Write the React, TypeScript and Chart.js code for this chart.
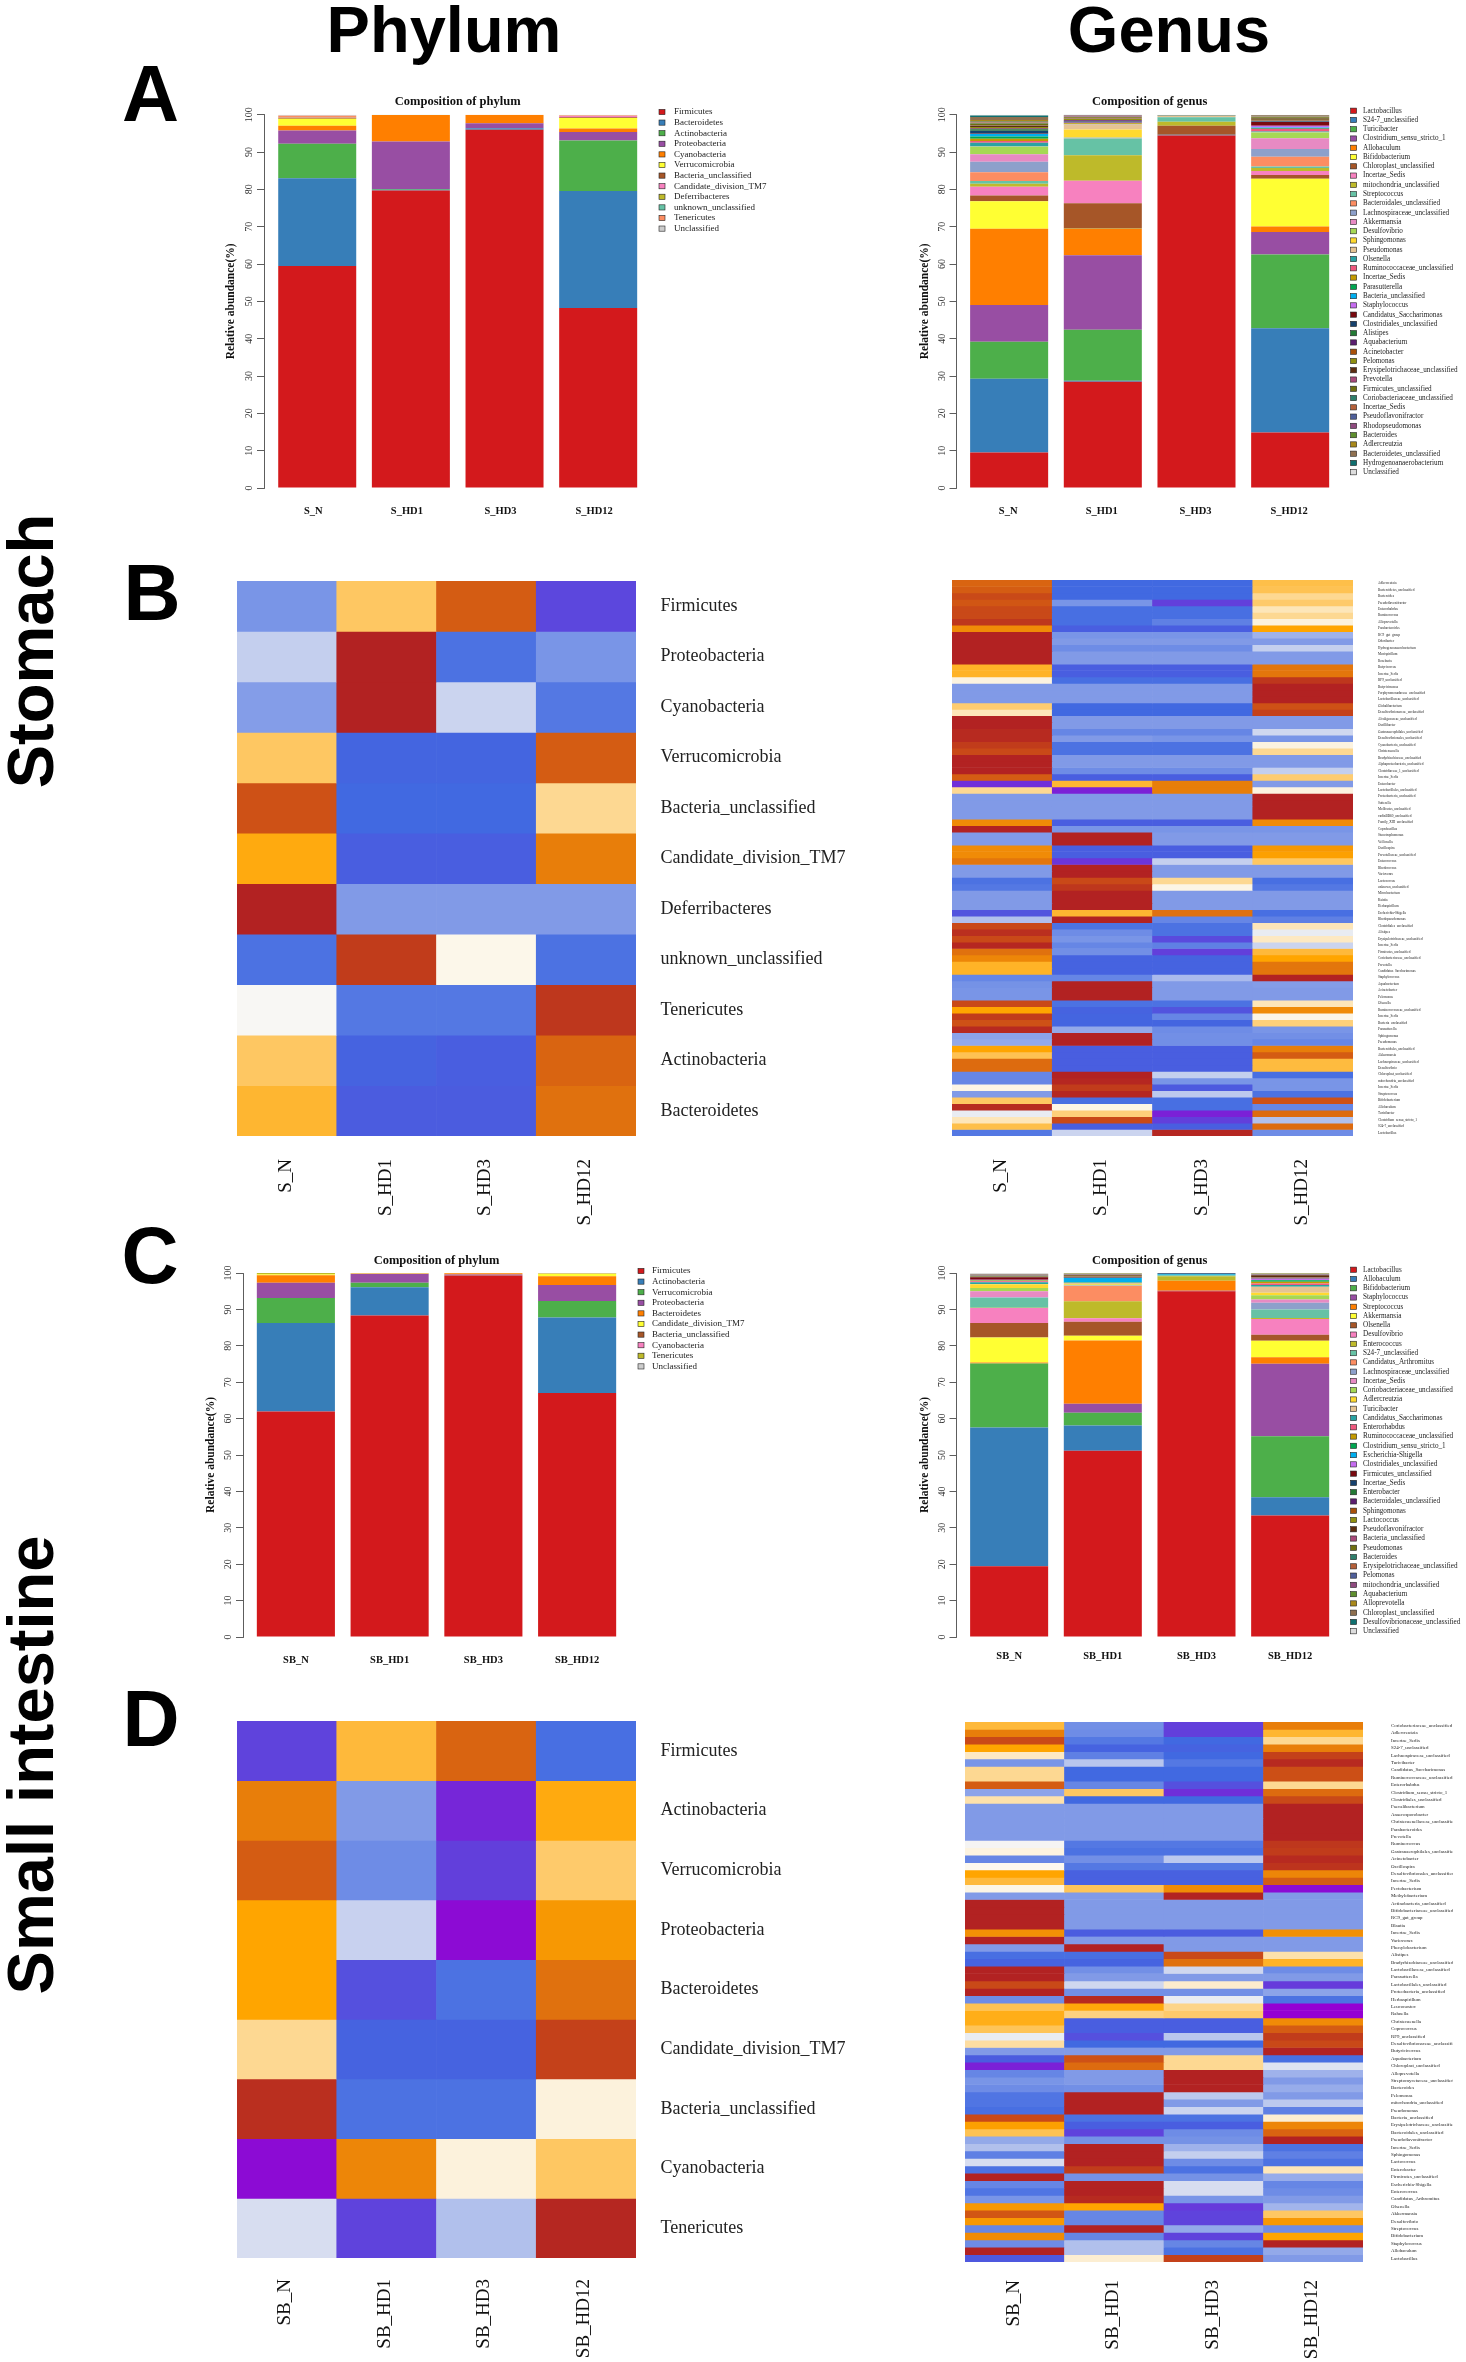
import React, { useEffect, useRef } from "react";
import { Chart, registerables } from "chart.js";

Chart.register(...registerables);

const SERIF = "'Liberation Serif'";
const SANS = "'Liberation Sans'";

// ---------- samples ----------
const sSamples = ["S_N", "S_HD1", "S_HD3", "S_HD12"];
const sbSamples = ["SB_N", "SB_HD1", "SB_HD3", "SB_HD12"];

// ---------- stomach phylum composition ----------
const sPhylumNames = ["Firmicutes", "Bacteroidetes", "Actinobacteria", "Proteobacteria", "Cyanobacteria", "Verrucomicrobia", "Bacteria_unclassified", "Candidate_division_TM7", "Deferribacteres", "unknown_unclassified", "Tenericutes", "Unclassified"];
const sPhylumColors = ["#D3191C", "#377EB8", "#4DAF4A", "#984EA3", "#FF7F00", "#FFFF33", "#A65628", "#F781BF", "#BEBA2A", "#66C2A5", "#FC8D62", "#CCCCCC"];
const sPhylumN = [59.5, 23.5, 9.2, 3.6, 1.25, 1.85, 0.3, 0.05, 0.05, 0.05, 0.4, 0.25];
const sPhylumHD1 = [79.7, 0.2, 0.2, 12.7, 7.1, 0, 0, 0, 0, 0.1, 0, 0];
const sPhylumHD3 = [96, 0.4, 0, 1.3, 2.3, 0, 0, 0, 0, 0, 0, 0];
const sPhylumHD12 = [48.2, 31.3, 13.5, 2.3, 0.9, 2.8, 0.2, 0.4, 0.1, 0, 0.1, 0.1];

// ---------- stomach genus composition ----------
const sGenusNames = ["Lactobacillus", "S24-7_unclassified", "Turicibacter", "Clostridium_sensu_stricto_1", "Allobaculum", "Bifidobacterium", "Chloroplast_unclassified", "Incertae_Sedis", "mitochondria_unclassified", "Streptococcus", "Bacteroidales_unclassified", "Lachnospiraceae_unclassified", "Akkermansia", "Desulfovibrio", "Sphingomonas", "Pseudomonas", "Olsenella", "Ruminococcaceae_unclassified", "Incertae_Sedis", "Parasutterella", "Bacteria_unclassified", "Staphylococcus", "Candidatus_Saccharimonas", "Clostridiales_unclassified", "Alistipes", "Aquabacterium", "Acinetobacter", "Pelomonas", "Erysipelotrichaceae_unclassified", "Prevotella", "Firmicutes_unclassified", "Coriobacteriaceae_unclassified", "Incertae_Sedis", "Pseudoflavonifractor", "Rhodopseudomonas", "Bacteroides", "Adlercreutzia", "Bacteroidetes_unclassified", "Hydrogenoanaerobacterium", "Unclassified"];
const genusColors = ["#D3191C", "#377EB8", "#4DAF4A", "#984EA3", "#FF7F00", "#FFFF33", "#A65628", "#F781BF", "#BEBA2A", "#66C2A5", "#FC8D62", "#8DA0CB", "#E78AC3", "#A6D854", "#FFD92F", "#E5C494", "#2AA3A3", "#F0597F", "#C49A00", "#00A651", "#00AEEF", "#C66CF0", "#7A0A10", "#16426E", "#237A35", "#5B1F70", "#A8500A", "#8F8F10", "#5B2C10", "#A84A7A", "#6F6F10", "#2F7F6B", "#B5603A", "#4F5F9A", "#8F4A80", "#5F8F2E", "#A8881A", "#8F7050", "#107070", "#DDDDDD"];
const sGenusN = [9.55, 19.8, 10, 9.9, 20.5, 7.4, 1.5, 2.4, 0.8, 0.7, 2.4, 2.8, 2, 2, 0.05, 0.05, 1, 0.5, 0.6, 0.6, 0.7, 0.05, 0.2, 0.6, 0.4, 0.2, 0.1, 0.3, 0.3, 0.1, 0.5, 0.2, 0.1, 0.1, 0.1, 0.2, 0.3, 0.8, 0.4, 0.2];
const sGenusHD1 = [28.5, 0.25, 13.65, 20, 7, 0.05, 6.9, 6, 6.8, 4.5, 0.1, 0.1, 0.05, 0.05, 2.1, 1.4, 0.05, 0.05, 0.2, 0.05, 0.05, 0.05, 0.05, 0.2, 0.1, 0.3, 0.1, 0.3, 0.1, 0.1, 0.2, 0.05, 0.1, 0.05, 0.3, 0.05, 0.05, 0.05, 0.05, 0];
const sGenusHD3 = [94.4, 0.25, 0, 0, 0, 0, 2.4, 0, 1.05, 1.2, 0.05, 0.05, 0, 0, 0, 0.3, 0, 0, 0, 0, 0, 0, 0, 0, 0, 0, 0, 0, 0, 0, 0, 0, 0, 0, 0, 0, 0, 0.1, 0.1, 0.1];
const sGenusHD12 = [14.9, 28, 19.8, 6.05, 1.5, 12.8, 1, 1.1, 0.8, 0.4, 2.6, 2.1, 2.9, 1.5, 0.05, 0.05, 0.2, 0.7, 0.05, 0.2, 0.1, 0.5, 1, 0.1, 0.1, 0.1, 0.1, 0.2, 0.3, 0.05, 0.3, 0.1, 0.05, 0.05, 0.05, 0.05, 0.05, 0.2, 0.1, 0.05];

// ---------- small intestine phylum composition ----------
const sbPhylumNames = ["Firmicutes", "Actinobacteria", "Verrucomicrobia", "Proteobacteria", "Bacteroidetes", "Candidate_division_TM7", "Bacteria_unclassified", "Cyanobacteria", "Tenericutes", "Unclassified"];
const sbPhylumColors = ["#D3191C", "#377EB8", "#4DAF4A", "#984EA3", "#FF7F00", "#FFFF33", "#A65628", "#F781BF", "#BEBA2A", "#CCCCCC"];
const sbPhylumN = [61.9, 24.3, 6.9, 4.2, 2, 0.3, 0.05, 0.05, 0.25, 0];
const sbPhylumHD1 = [88.3, 7.8, 1.2, 2.4, 0.1, 0.05, 0.05, 0, 0.05, 0.05];
const sbPhylumHD3 = [99.3, 0.05, 0.05, 0.2, 0.3, 0.1, 0, 0, 0, 0];
const sbPhylumHD12 = [67, 20.7, 4.5, 4.4, 2.4, 0.7, 0.05, 0, 0.1, 0.05];

// ---------- small intestine genus composition ----------
const sbGenusNames = ["Lactobacillus", "Allobaculum", "Bifidobacterium", "Staphylococcus", "Streptococcus", "Akkermansia", "Olsenella", "Desulfovibrio", "Enterococcus", "S24-7_unclassified", "Candidatus_Arthromitus", "Lachnospiraceae_unclassified", "Incertae_Sedis", "Coriobacteriaceae_unclassified", "Adlercreutzia", "Turicibacter", "Candidatus_Saccharimonas", "Enterorhabdus", "Ruminococcaceae_unclassified", "Clostridium_sensu_stricto_1", "Escherichia-Shigella", "Clostridiales_unclassified", "Firmicutes_unclassified", "Incertae_Sedis", "Enterobacter", "Bacteroidales_unclassified", "Sphingomonas", "Lactococcus", "Pseudoflavonifractor", "Bacteria_unclassified", "Pseudomonas", "Bacteroides", "Erysipelotrichaceae_unclassified", "Pelomonas", "mitochondria_unclassified", "Aquabacterium", "Alloprevotella", "Chloroplast_unclassified", "Desulfovibrionaceae_unclassified", "Unclassified"];
const sbGenusN = [19.5, 38.2, 17.6, 0.05, 0.25, 6.9, 4, 4.1, 0.05, 2.75, 0.05, 0.1, 1.7, 0.9, 1, 0.05, 0.5, 0.3, 0.2, 0.05, 0.1, 0.05, 0.7, 0.05, 0.05, 0.05, 0.05, 0.05, 0.05, 0.1, 0.05, 0.05, 0.05, 0.05, 0.05, 0.05, 0.05, 0.05, 0.05, 0.3];
const sbGenusHD1 = [51.3, 7, 3.5, 2.5, 17.4, 1.3, 3.9, 0.9, 4.7, 0.05, 4.2, 0.05, 0.05, 0.2, 0.2, 0.3, 0.1, 0.05, 0.05, 0.05, 1.1, 0.05, 0.05, 0.05, 0.1, 0.1, 0.1, 0.2, 0.2, 0.05, 0.05, 0.05, 0.05, 0.05, 0.05, 0.05, 0.05, 0.05, 0.05, 0.05];
const sbGenusHD3 = [95, 0.05, 0, 0.05, 2.8, 0, 0, 0, 1.2, 0.3, 0, 0, 0, 0, 0, 0, 0.1, 0, 0, 0, 0.2, 0, 0, 0.2, 0, 0, 0, 0, 0, 0, 0, 0, 0, 0, 0, 0, 0, 0, 0, 0.1];
const sbGenusHD12 = [33.4, 5, 16.8, 19.9, 1.8, 4.5, 1.7, 4.3, 0.3, 2.3, 0.05, 1.8, 0.9, 1.2, 0.7, 1.6, 0.5, 0.4, 0.5, 0.4, 0.1, 0.3, 0.1, 0.05, 0.05, 0.1, 0.05, 0.05, 0.6, 0.1, 0.05, 0.05, 0.05, 0.05, 0.05, 0.05, 0.05, 0.05, 0.05, 0.05];

// ---------- heatmaps: rows of scaled values, one per sample ----------
const sPhylumHeatRows = ["Firmicutes", "Proteobacteria", "Cyanobacteria", "Verrucomicrobia", "Bacteria_unclassified", "Candidate_division_TM7", "Deferribacteres", "unknown_unclassified", "Tenericutes", "Actinobacteria", "Bacteroidetes"];
const sPhylumHeat = [
  [-0.35, 0.3, 0.78, -0.66], [-0.15, 1, -0.47, -0.35], [-0.32, 1, -0.13, -0.45], [0.3, -0.52, -0.52, 0.78],
  [0.82, -0.5, -0.5, 0.2], [0.47, -0.55, -0.55, 0.65], [1, -0.33, -0.33, -0.33], [-0.47, 0.9, 0.02, -0.47],
  [-0.01, -0.45, -0.45, 0.92], [0.3, -0.53, -0.55, 0.75], [0.4, -0.56, -0.56, 0.7],
];
const sbPhylumHeatRows = ["Firmicutes", "Actinobacteria", "Verrucomicrobia", "Proteobacteria", "Bacteroidetes", "Candidate_division_TM7", "Bacteria_unclassified", "Cyanobacteria", "Tenericutes"];
const sbPhylumHeat = [
  [-0.68, 0.38, 0.75, -0.48], [0.65, -0.33, -0.82, 0.47], [0.78, -0.38, -0.7, 0.28], [0.5, -0.14, -0.95, 0.55],
  [0.5, -0.62, -0.47, 0.7], [0.2, -0.53, -0.53, 0.88], [0.95, -0.47, -0.47, 0.05], [-0.95, 0.62, 0.05, 0.3],
  [-0.1, -0.68, -0.2, 0.98],
];
const sGenusHeatRows = ["Adlercreutzia", "Bacteroidetes_unclassified", "Bacteroides", "Pseudoflavonifractor", "Enterorhabdus", "Ruminococcus", "Alloprevotella", "Parabacteroides", "RC9_gut_group", "Odoribacter", "Hydrogenoanaerobacterium", "Mucispirillum", "Roseburia", "Butyricoccus", "Incertae_Sedis", "RF9_unclassified", "Butyricimonas", "Porphyromonadaceae_unclassified", "Lactobacillaceae_unclassified", "Globalibacterium", "Desulfovibrionaceae_unclassified", "Alcaligenaceae_unclassified", "Oscillibacter", "Gastranaerophilales_unclassified", "Desulfovibrionales_unclassified", "Cyanobacteria_unclassified", "Christensenella", "Bradyrhizobiaceae_unclassified", "Alphaproteobacteria_unclassified", "Clostridiaceae_1_unclassified", "Incertae_Sedis", "Enterobacter", "Lactobacillales_unclassified", "Proteobacteria_unclassified", "Sutterella", "Mollicutes_unclassified", "vadinBB60_unclassified", "Family_XIII_unclassified", "Coprobacillus", "Stenotrophomonas", "Veillonella", "Oscillospira", "Prevotellaceae_unclassified", "Enterococcus", "Rhodococcus", "Variovorax", "Lactococcus", "unknown_unclassified", "Microbacterium", "Kaistia", "Herbaspirillum", "Escherichia-Shigella", "Rhodopseudomonas", "Clostridiales_unclassified", "Alistipes", "Erysipelotrichaceae_unclassified", "Incertae_Sedis", "Firmicutes_unclassified", "Coriobacteriaceae_unclassified", "Prevotella", "Candidatus_Saccharimonas", "Staphylococcus", "Aquabacterium", "Acinetobacter", "Pelomonas", "Olsenella", "Ruminococcaceae_unclassified", "Incertae_Sedis", "Bacteria_unclassified", "Parasutterella", "Sphingomonas", "Pseudomonas", "Bacteroidales_unclassified", "Akkermansia", "Lachnospiraceae_unclassified", "Desulfovibrio", "Chloroplast_unclassified", "mitochondria_unclassified", "Incertae_Sedis", "Streptococcus", "Bifidobacterium", "Allobaculum", "Turicibacter", "Clostridium_sensu_stricto_1", "S24-7_unclassified", "Lactobacillus"];
const sGenusHeat = [
  [0.75, -0.5, -0.5, 0.35], [0.78, -0.5, -0.5, 0.33], [0.85, -0.5, -0.5, 0.2], [0.8, -0.35, -0.7, 0.28],
  [0.85, -0.48, -0.48, 0.12], [0.85, -0.48, -0.48, 0.2], [0.92, -0.48, -0.42, 0.05], [0.6, -0.55, -0.55, 0.5],
  [1, -0.35, -0.35, -0.25], [1, -0.33, -0.33, -0.33], [1, -0.38, -0.38, -0.15], [1, -0.33, -0.33, -0.33],
  [1, -0.33, -0.33, -0.33], [0.42, -0.55, -0.55, 0.68], [0.42, -0.55, -0.55, 0.68], [0.04, -0.48, -0.48, 0.92],
  [-0.33, -0.33, -0.33, 1], [-0.33, -0.33, -0.33, 1], [-0.33, -0.33, -0.33, 1], [0.27, -0.5, -0.5, 0.82],
  [0.12, -0.5, -0.5, 0.88], [1, -0.33, -0.33, -0.33], [1, -0.33, -0.33, -0.33], [0.97, -0.4, -0.4, -0.12],
  [0.97, -0.33, -0.35, -0.35], [0.9, -0.47, -0.47, 0.04], [0.85, -0.47, -0.47, 0.2], [1, -0.33, -0.33, -0.33],
  [1, -0.33, -0.33, -0.33], [1, -0.38, -0.38, -0.15], [0.78, -0.55, -0.55, 0.27], [-0.78, 0.4, 0.65, -0.33],
  [0.2, -0.85, 0.65, 0.04], [-0.33, -0.33, -0.33, 1], [-0.33, -0.33, -0.33, 1], [-0.33, -0.33, -0.33, 1],
  [-0.33, -0.33, -0.33, 1], [0.6, -0.55, -0.55, 0.6], [1, -0.35, -0.35, -0.35], [-0.33, 1, -0.33, -0.33],
  [-0.33, 1, -0.33, -0.33], [0.6, -0.55, -0.55, 0.55], [0.6, -0.55, -0.55, 0.52], [0.68, -0.75, -0.15, 0.3],
  [-0.33, 1, -0.33, -0.33], [-0.33, 1, -0.33, -0.33], [-0.47, 0.85, 0.2, -0.48], [-0.45, 0.92, 0.03, -0.45],
  [-0.33, 1, -0.33, -0.33], [-0.33, 1, -0.33, -0.33], [-0.33, 1, -0.33, -0.33], [-0.6, 0.4, 0.7, -0.48],
  [-0.2, 1, -0.4, -0.42], [0.85, -0.47, -0.47, 0.12], [0.95, -0.38, -0.47, -0.05], [0.85, -0.35, -0.65, 0.1],
  [0.98, -0.4, -0.42, -0.13], [0.7, -0.37, -0.7, 0.38], [0.62, -0.53, -0.53, 0.5], [0.42, -0.53, -0.53, 0.68],
  [0.42, -0.53, -0.53, 0.68], [-0.4, -0.4, -0.22, 1], [-0.36, 1, -0.33, -0.32], [-0.35, 1, -0.33, -0.33],
  [-0.35, 1, -0.33, -0.33], [0.85, -0.47, -0.47, 0.12], [0.5, -0.53, -0.6, 0.6], [0.9, -0.52, -0.4, 0.03],
  [0.82, -0.52, -0.52, 0.25], [0.97, -0.28, -0.38, -0.35], [-0.3, 1, -0.37, -0.37], [-0.28, 1, -0.37, -0.4],
  [0.5, -0.55, -0.55, 0.65], [0.33, -0.55, -0.55, 0.78], [0.72, -0.55, -0.55, 0.37], [0.72, -0.55, -0.55, 0.37],
  [-0.4, 1, -0.15, -0.48], [-0.4, 0.98, -0.35, -0.35], [0.03, 0.9, -0.57, -0.35], [-0.33, 0.98, -0.17, -0.47],
  [0.3, -0.48, -0.48, 0.82], [0.97, 0.03, -0.48, -0.4], [-0.05, 0.25, -0.85, 0.72], [0.12, 0.85, -0.7, -0.2],
  [0.35, -0.55, -0.55, 0.72], [-0.45, -0.13, 0.98, -0.38],
];
const sbGenusHeatRows = ["Coriobacteriaceae_unclassified", "Adlercreutzia", "Incertae_Sedis", "S24-7_unclassified", "Lachnospiraceae_unclassified", "Turicibacter", "Candidatus_Saccharimonas", "Ruminococcaceae_unclassified", "Enterorhabdus", "Clostridium_sensu_stricto_1", "Clostridiales_unclassified", "Faecalibacterium", "Anaerosporobacter", "Christensenellaceae_unclassified", "Parabacteroides", "Prevotella", "Ruminococcus", "Gastranaerophilales_unclassified", "Acinetobacter", "Oscillospira", "Desulfovibrionales_unclassified", "Incertae_Sedis", "Pectobacterium", "Methylobacterium", "Actinobacteria_unclassified", "Bifidobacteriaceae_unclassified", "RC9_gut_group", "Blautia", "Incertae_Sedis", "Variovorax", "Phenylobacterium", "Alistipes", "Bradyrhizobiaceae_unclassified", "Lactobacillaceae_unclassified", "Parasutterella", "Lactobacillales_unclassified", "Proteobacteria_unclassified", "Herbaspirillum", "Leuconostoc", "Rahnella", "Christensenella", "Coprococcus", "RF9_unclassified", "Desulfovibrionaceae_unclassified", "Butyricicoccus", "Aquabacterium", "Chloroplast_unclassified", "Alloprevotella", "Streptomycetaceae_unclassified", "Bacteroides", "Pelomonas", "mitochondria_unclassified", "Pseudomonas", "Bacteria_unclassified", "Erysipelotrichaceae_unclassified", "Bacteroidales_unclassified", "Pseudoflavonifractor", "Incertae_Sedis", "Sphingomonas", "Lactococcus", "Enterobacter", "Firmicutes_unclassified", "Escherichia-Shigella", "Enterococcus", "Candidatus_Arthromitus", "Olsenella", "Akkermansia", "Desulfovibrio", "Streptococcus", "Bifidobacterium", "Staphylococcus", "Allobaculum", "Lactobacillus"];
const sbGenusHeat = [
  [0.38, -0.37, -0.7, 0.65], [0.65, -0.38, -0.7, 0.4], [0.85, -0.45, -0.5, 0.2], [0.5, -0.53, -0.53, 0.65],
  [0.1, -0.42, -0.5, 0.88], [-0.35, -0.18, -0.45, 0.97], [0.2, -0.5, -0.5, 0.83], [0.2, -0.5, -0.5, 0.83],
  [0.78, -0.4, -0.62, 0.2], [-0.3, 0.3, -0.78, 0.72], [0.15, -0.5, -0.5, 0.85], [-0.33, -0.33, -0.33, 1],
  [-0.33, -0.33, -0.33, 1], [-0.33, -0.33, -0.33, 1], [-0.33, -0.33, -0.33, 1], [-0.33, -0.33, -0.33, 1],
  [-0.02, -0.45, -0.45, 0.92], [0.04, -0.47, -0.47, 0.9], [-0.4, -0.37, -0.17, 0.97], [0.01, -0.45, -0.45, 0.93],
  [0.5, -0.54, -0.54, 0.62], [0.38, -0.54, -0.54, 0.78], [0.03, 0.32, 0.6, -0.95], [-0.33, -0.33, 1, -0.33],
  [1, -0.33, -0.33, -0.33], [1, -0.33, -0.33, -0.33], [1, -0.33, -0.33, -0.33], [1, -0.33, -0.33, -0.33],
  [0.58, -0.56, -0.56, 0.58], [1, -0.33, -0.33, -0.33], [-0.33, 1, -0.33, -0.33], [-0.48, -0.48, 0.85, 0.15],
  [-0.53, -0.53, 0.7, 0.42], [1, -0.37, -0.12, -0.38], [1, -0.33, -0.33, -0.33], [0.85, -0.12, 0.08, -0.72],
  [1, -0.37, -0.37, -0.3], [-0.38, 0.97, -0.05, -0.47], [0.33, 0.48, 0.22, -1], [0.45, 0.24, 0.28, -1],
  [0.45, -0.55, -0.55, 0.6], [0.32, -0.55, -0.55, 0.78], [-0.05, -0.62, -0.18, 0.9], [0.17, -0.5, -0.5, 0.85],
  [-0.33, -0.33, -0.33, 1], [-0.56, 0.82, 0.2, -0.48], [-0.85, 0.72, 0.2, -0.08], [-0.4, -0.33, 1, -0.25],
  [-0.35, -0.33, 1, -0.33], [-0.38, -0.37, 1, -0.27], [-0.46, 1, -0.17, -0.33], [-0.46, 1, -0.33, -0.17],
  [-0.48, 1, -0.13, -0.42], [0.85, -0.47, -0.47, 0.07], [0.52, -0.55, -0.55, 0.62], [0.33, -0.68, -0.38, 0.75],
  [-0.28, -0.36, -0.36, 1], [-0.2, 1, -0.25, -0.47], [-0.42, 1, -0.15, -0.42], [-0.1, 1, -0.38, -0.47],
  [-0.47, 0.9, -0.47, 0.12], [1, -0.36, -0.36, -0.27], [-0.4, 1, -0.1, -0.4], [-0.46, 1, -0.1, -0.38],
  [-0.35, 0.97, -0.35, -0.33], [0.55, 0.5, -0.72, -0.24], [0.8, -0.4, -0.68, 0.3], [0.55, -0.4, -0.68, 0.55],
  [-0.4, 1, -0.28, -0.38], [0.6, -0.4, -0.68, 0.5], [-0.38, -0.2, -0.4, 1], [1, -0.2, -0.47, -0.28],
  [-0.58, 0.07, 0.88, -0.33],
];

const rampValues = [-1, -0.5, 0, 0.5, 1];
const rampColors = [[148, 0, 211], [65, 105, 225], [252, 250, 244], [255, 165, 0], [178, 34, 34]];

function heatColor(v: number) {
  let i = 0;
  while (i < rampValues.length - 2 && v > rampValues[i + 1]) i++;
  const t = (v - rampValues[i]) / (rampValues[i + 1] - rampValues[i]);
  const c = rampColors[i].map((a, k) => Math.round(a + (rampColors[i + 1][k] - a) * t));
  return `rgb(${c[0]},${c[1]},${c[2]})`;
}

const sideLegend = {
  id: "sideLegend",
  afterDraw(chart: any, _a: any, o: any) {
    const { ctx } = chart;
    ctx.save();
    ctx.font = `${o.size}px ${SERIF}`;
    ctx.textBaseline = "middle";
    ctx.textAlign = "left";
    chart.data.datasets.forEach((d: any, i: number) => {
      const y = o.y + i * o.step;
      ctx.fillStyle = d.backgroundColor;
      ctx.strokeStyle = "#222";
      ctx.lineWidth = 0.6;
      ctx.fillRect(o.x - 3, y - 2.6, 6, 5.2);
      ctx.strokeRect(o.x - 3, y - 2.6, 6, 5.2);
      ctx.fillStyle = "#222";
      ctx.fillText(d.label, o.textX, y);
    });
    ctx.restore();
  },
};

const axisGap = {
  id: "axisGap",
  afterLayout(chart: any, _a: any, o: any) {
    if (chart.scales.y && o.gap) chart.scales.y.right -= o.gap;
  },
};

const noPad = (s: any) => {
  s.paddingTop = s.paddingBottom = s.paddingLeft = s.paddingRight = 0;
};

function Panel({ left, top, width, height, config }: any) {
  const ref = useRef<HTMLCanvasElement>(null);
  useEffect(() => {
    const chart = new Chart(ref.current as HTMLCanvasElement, config);
    return () => chart.destroy();
  }, []);
  return (
    <canvas
      ref={ref}
      width={width}
      height={height}
      style={{ position: "absolute", left, top, width, height }}
    />
  );
}

function stackPanel(p: any) {
  const canvasLeft = Math.round(p.titleAxisX - 6.6);
  const canvasTop = Math.round(p.areaTop - 25);
  const right = p.legendRight;
  const xH = 40;
  const yW = p.areaLeft - canvasLeft;
  const lineH = 12.5 * 1.2;
  const padT = p.titleY - canvasTop - lineH / 2;
  const padB = p.areaTop - canvasTop - lineH - padT;
  const columns = p.columns;
  const sums = columns.map((c: number[]) => c.reduce((a, b) => a + b, 0));
  return {
    left: canvasLeft,
    top: canvasTop,
    width: right - canvasLeft,
    height: Math.round(p.areaBottom) - canvasTop + xH,
    config: {
      type: "bar",
      data: {
        labels: p.samples,
        datasets: p.names.map((n: string, i: number) => ({
          label: n,
          data: columns.map((c: number[], k: number) => (c[i] / sums[k]) * 100),
          backgroundColor: p.colors[i],
          borderWidth: 0,
          barPercentage: 0.833,
          categoryPercentage: 1,
        })),
      },
      options: {
        responsive: false,
        animation: false,
        events: [],
        layout: { padding: { right: right - p.areaRight, left: 0, top: 0, bottom: 0 } },
        plugins: {
          legend: { display: false },
          tooltip: { enabled: false },
          title: {
            display: true,
            text: p.title,
            fullSize: false,
            color: "#111",
            font: { family: SERIF, size: 12.5, weight: "bold" },
            padding: { top: padT, bottom: padB },
          },
          sideLegend: { x: p.legendX - canvasLeft, textX: p.legendTextX - canvasLeft, y: p.legendY - canvasTop, step: p.legendStep, size: p.legendSize },
          axisGap: { gap: p.areaLeft - p.axisX },
        },
        scales: {
          x: {
            stacked: true,
            afterFit: (s: any) => {
              s.height = xH;
              noPad(s);
            },
            grid: { display: false },
            border: { display: false },
            ticks: {
              color: "#111",
              font: { family: SERIF, size: 10.5, weight: "bold" },
              maxRotation: 0,
              minRotation: 0,
              padding: p.xPad,
              labelOffset: p.xOffset,
            },
          },
          y: {
            stacked: true,
            min: 0,
            max: 100,
            afterFit: (s: any) => {
              s.width = yW;
              noPad(s);
            },
            title: {
              display: true,
              text: "Relative abundance(%)",
              color: "#111",
              font: { family: SERIF, size: 11.5, weight: "bold" },
              padding: 0,
            },
            grid: { drawOnChartArea: false, tickLength: 7, color: "#333", lineWidth: 0.8 },
            border: { color: "#333", width: 0.8 },
            ticks: {
              stepSize: 10,
              color: "#333",
              font: { family: SERIF, size: 10 },
              minRotation: 90,
              maxRotation: 90,
              crossAlign: "center",
              padding: 0,
            },
          },
        },
      },
      plugins: [sideLegend, axisGap],
    },
  };
}

function heatPanel(p: any) {
  const xH = 110;
  const canvasLeft = Math.round(p.left);
  const canvasTop = Math.round(p.top);
  const w = p.right - canvasLeft;
  const h = p.bottom - canvasTop;
  const labelW = 90 + (p.labelSize > 10 ? 190 : 0);
  const rows = p.rows;
  return {
    left: canvasLeft,
    top: canvasTop,
    width: Math.round(w + labelW),
    height: Math.round(h + xH),
    config: {
      type: "bar",
      data: {
        labels: p.samples,
        datasets: rows.map((r: number[], i: number) => ({
          label: p.names[i],
          data: r.map(() => 1),
          backgroundColor: r.map(heatColor),
          borderWidth: 0,
          barPercentage: 1,
          categoryPercentage: 1,
        })),
      },
      options: {
        responsive: false,
        animation: false,
        events: [],
        plugins: { legend: { display: false }, tooltip: { enabled: false }, title: { display: false } },
        scales: {
          x: {
            stacked: true,
            afterFit: (s: any) => {
              s.height = xH;
              noPad(s);
            },
            grid: { display: false },
            border: { display: false },
            ticks: {
              color: "#111",
              font: { family: SERIF, size: 19 },
              minRotation: 90,
              maxRotation: 90,
              autoSkip: false,
              padding: p.xPad,
              labelOffset: p.xOffset,
            },
          },
          y: {
            stacked: true,
            position: "right",
            reverse: true,
            min: 0,
            max: rows.length,
            afterBuildTicks: (s: any) => {
              s.ticks = rows.map((_: any, i: number) => ({ value: i + 0.5 }));
            },
            afterFit: (s: any) => {
              s.width = labelW;
              noPad(s);
            },
            grid: { display: false },
            border: { display: false },
            ticks: {
              autoSkip: false,
              color: "#222",
              font: { family: SERIF, size: p.labelSize },
              padding: p.labelPad,
              callback: (v: number) => p.names[Math.floor(v)],
            },
          },
        },
      },
    },
  };
}

const panels = [
  stackPanel({ samples: sSamples, names: sPhylumNames, colors: sPhylumColors, columns: [sPhylumN, sPhylumHD1, sPhylumHD3, sPhylumHD12], title: "Composition of phylum", areaLeft: 270.4, areaRight: 645, axisX: 264, areaTop: 114.7, areaBottom: 488, titleY: 102, titleAxisX: 231, legendRight: 800, legendX: 662, legendTextX: 674, legendY: 112, legendStep: 10.6, legendSize: 9, xPad: 9, xOffset: -4 }),
  stackPanel({ samples: sSamples, names: sGenusNames, colors: genusColors, columns: [sGenusN, sGenusHD1, sGenusHD3, sGenusHD12], title: "Composition of genus", areaLeft: 962.3, areaRight: 1337, axisX: 956.5, areaTop: 114.7, areaBottom: 488, titleY: 102, titleAxisX: 925, legendRight: 1466, legendX: 1353.6, legendTextX: 1363, legendY: 110.7, legendStep: 9.27, legendSize: 7.2, xPad: 9, xOffset: -1 }),
  stackPanel({ samples: sbSamples, names: sbPhylumNames, colors: sbPhylumColors, columns: [sbPhylumN, sbPhylumHD1, sbPhylumHD3, sbPhylumHD12], title: "Composition of phylum", areaLeft: 249, areaRight: 624, axisX: 243, areaTop: 1273, areaBottom: 1636.7, titleY: 1261, titleAxisX: 210.7, legendRight: 800, legendX: 641, legendTextX: 652, legendY: 1271, legendStep: 10.6, legendSize: 9, xPad: 9, xOffset: 0 }),
  stackPanel({ samples: sbSamples, names: sbGenusNames, colors: genusColors, columns: [sbGenusN, sbGenusHD1, sbGenusHD3, sbGenusHD12], title: "Composition of genus", areaLeft: 962.3, areaRight: 1337, axisX: 956.5, areaTop: 1273, areaBottom: 1636.7, titleY: 1261, titleAxisX: 925, legendRight: 1466, legendX: 1353.6, legendTextX: 1363, legendY: 1269.7, legendStep: 9.27, legendSize: 7.2, xPad: 5, xOffset: 0 }),
  heatPanel({ samples: sSamples, names: sPhylumHeatRows, rows: sPhylumHeat, left: 237, right: 636, top: 581, bottom: 1136, labelSize: 18, labelPad: 16.5, xPad: 15, xOffset: -1 }),
  heatPanel({ samples: sSamples, names: sGenusHeatRows, rows: sGenusHeat, left: 952, right: 1353, top: 580, bottom: 1136, labelSize: 3.4, labelPad: 17, xPad: 15, xOffset: -1 }),
  heatPanel({ samples: sbSamples, names: sbPhylumHeatRows, rows: sbPhylumHeat, left: 237, right: 636, top: 1721, bottom: 2258, labelSize: 18, labelPad: 16.5, xPad: 13, xOffset: -2 }),
  heatPanel({ samples: sbSamples, names: sbGenusHeatRows, rows: sbGenusHeat, left: 965, right: 1363, top: 1722, bottom: 2262, labelSize: 4.9, labelPad: 20, xPad: 10, xOffset: -1 }),
];

const bigTexts = [
  { text: "Phylum", x: 444, baseline: 52, size: 65 },
  { text: "Genus", x: 1169, baseline: 52, size: 65 },
  { text: "A", x: 150.5, baseline: 120.5, size: 79 },
  { text: "B", x: 152, baseline: 620, size: 79 },
  { text: "C", x: 150, baseline: 1283, size: 79 },
  { text: "D", x: 151, baseline: 1746, size: 79 },
];
const sideTexts = [
  { text: "Stomach", x: 29.5, y: 651 },
  { text: "Small intestine", x: 29.5, y: 1765 },
];

export default function App() {
  return (
    <div style={{ position: "absolute", left: 0, top: 0, width: 1466, height: 2362, background: "#fff", overflow: "hidden" }}>
      {bigTexts.map((t) => (
        <div
          key={t.text}
          style={{
            position: "absolute",
            left: t.x,
            top: t.baseline - t.size * 0.8475,
            transform: "translateX(-50%)",
            font: `bold ${t.size}px/${t.size}px ${SANS}`,
            color: "#000",
            whiteSpace: "nowrap",
          }}
        >
          {t.text}
        </div>
      ))}
      {sideTexts.map((t) => (
        <div
          key={t.text}
          style={{
            position: "absolute",
            left: t.x,
            top: t.y,
            transform: "translate(-50%,-50%) rotate(-90deg)",
            font: `bold 65px/65px ${SANS}`,
            color: "#000",
            whiteSpace: "nowrap",
          }}
        >
          {t.text}
        </div>
      ))}
      {panels.map((p, i) => (
        <Panel key={i} {...p} />
      ))}
    </div>
  );
}
